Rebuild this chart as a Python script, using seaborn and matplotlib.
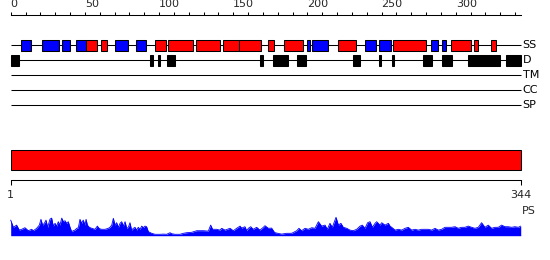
import numpy as np
import matplotlib
matplotlib.use("Agg")
import matplotlib.pyplot as plt
from matplotlib.patches import Rectangle
import seaborn as sns

# ---------------- data ----------------
seq_len = 344

# secondary structure elements (H = helix red, E = strand blue)
ss_start = [7.0, 21.4, 34.6, 44.3, 50.6, 61.2, 70.4, 84.6, 97.4, 106.3, 125.0, 143.4,
            153.9, 173.3, 184.5, 199.4, 203.2, 220.3, 238.5, 248.2, 257.9, 283.4,
            290.5, 296.6, 312.6, 323.5]
ss_end = [13.6, 32.4, 40.3, 50.6, 58.5, 65.0, 79.2, 91.1, 104.4, 122.6, 141.0, 153.9,
          168.4, 177.2, 197.1, 201.5, 214.0, 232.5, 246.3, 256.6, 280.2, 287.9,
          293.3, 310.5, 315.2, 327.2]
ss_type = ["E", "E", "E", "E", "H", "H", "E", "E", "H", "H", "H", "H", "H", "H", "H",
           "E", "E", "H", "E", "E", "H", "E", "E", "H", "H", "H"]

# disordered regions
d_start = [0, 94, 99.3, 105.2, 168.1, 176.9, 193.1, 230.8, 248.6, 257.1, 278.1, 290.8,
           308.4, 334.0]
d_end = [5.6, 96.0, 100.7, 110.7, 170.0, 186.8, 198.9, 235.4, 249.7, 258.3, 283.9,
         297.4, 329.8, 344]

track_labels = ["SS", "D", "TM", "CC", "SP"]

# domain bar
domain_start = [0]
domain_end = [344]

# profile (PS)
ps_pos = [0, 1.8, 4.0, 5.8, 7.4, 9.6, 11.9, 14.1, 15.3, 17.5, 19.3, 20.4, 21.5, 22.7,
          23.8, 24.9, 26.5, 27.6, 28.7, 29.9, 31.0, 32.1, 33.2, 34.4, 35.5, 36.6,
          37.7, 38.8, 40.0, 41.1, 42.2, 43.3, 44.5, 45.6, 46.7, 47.8, 48.9, 50.1,
          50.8, 51.7, 53.0, 54.6, 56.8, 58.4, 59.8, 61.3, 63.6, 65.8, 66.9, 68.1,
          69.2, 70.3, 71.4, 72.6, 73.7, 74.8, 75.9, 77.1, 78.2, 79.3, 80.4, 81.5,
          82.7, 83.8, 84.9, 86.0, 87.2, 88.3, 89.4, 90.5, 91.6, 92.8, 95.0, 97.3,
          100.6, 102.9, 105.1, 107.4, 108.5, 110.8, 114.1, 116.4, 118.6, 122.0,
          125.4, 129.9, 133.2, 134.8, 136.1, 138.8, 141.1, 142.2, 144.5, 147.8,
          150.1, 152.3, 154.6, 155.7, 157.9, 159.1, 160.2, 161.8, 163.5, 165.8,
          168.0, 170.3, 171.4, 173.7, 175.9, 177.5, 178.2, 182.6, 186.0, 189.4,
          192.8, 194.3, 196.1, 198.4, 200.6, 202.9, 205.1, 207.4, 209.6, 211.9,
          213.4, 215.2, 216.8, 219.3, 220.9, 222.6, 224.2, 226.5, 228.7, 230.9,
          233.2, 235.5, 237.0, 238.8, 240.6, 242.2, 243.8, 245.6, 246.7, 248.9,
          250.1, 252.3, 254.6, 255.7, 256.8, 259.1, 261.3, 263.6, 265.8, 268.0,
          270.3, 272.5, 274.8, 277.0, 279.3, 281.5, 283.8, 286.0, 288.2, 290.5,
          292.7, 295.0, 297.2, 299.5, 301.7, 303.9, 306.2, 308.4, 310.7, 312.9,
          315.2, 317.4, 319.7, 321.9, 324.2, 326.4, 328.7, 330.9, 333.2, 335.4,
          337.7, 339.9, 342.2, 343.8]
ps_val = [0.78, 0.42, 0.53, 0.28, 0.32, 0.40, 0.25, 0.32, 0.25, 0.37, 0.53, 0.82, 0.53,
          0.62, 0.78, 0.42, 0.83, 0.88, 0.48, 0.62, 0.48, 0.70, 0.53, 0.88, 0.70,
          0.75, 0.62, 0.70, 0.42, 0.20, 0.25, 0.28, 0.37, 0.40, 0.82, 0.62, 0.78,
          0.53, 0.82, 0.53, 0.42, 0.37, 0.32, 0.48, 0.35, 0.32, 0.32, 0.37, 0.42,
          0.53, 0.87, 0.53, 0.65, 0.42, 0.62, 0.70, 0.48, 0.70, 0.37, 0.42, 0.65,
          0.28, 0.37, 0.42, 0.28, 0.42, 0.32, 0.48, 0.40, 0.48, 0.45, 0.20, 0.12,
          0.07, 0.07, 0.08, 0.07, 0.15, 0.10, 0.07, 0.07, 0.12, 0.15, 0.17, 0.25,
          0.25, 0.23, 0.53, 0.32, 0.32, 0.28, 0.37, 0.28, 0.37, 0.25, 0.37, 0.48,
          0.38, 0.45, 0.25, 0.37, 0.45, 0.32, 0.42, 0.28, 0.42, 0.50, 0.37, 0.38,
          0.20, 0.15, 0.08, 0.12, 0.12, 0.25, 0.37, 0.25, 0.37, 0.32, 0.40,
          0.37, 0.70, 0.48, 0.53, 0.32, 0.62, 0.42, 0.92, 0.53, 0.62, 0.42, 0.37,
          0.28, 0.25, 0.32, 0.48, 0.53, 0.37, 0.65, 0.70, 0.42, 0.62, 0.70, 0.53,
          0.65, 0.53, 0.62, 0.48, 0.42, 0.28, 0.32, 0.28, 0.37, 0.42, 0.28, 0.32,
          0.28, 0.32, 0.32, 0.32, 0.28, 0.37, 0.28, 0.32, 0.42, 0.42, 0.42, 0.45,
          0.37, 0.42, 0.42, 0.48, 0.42, 0.37, 0.42, 0.65, 0.42, 0.53, 0.37, 0.42,
          0.42, 0.53, 0.45, 0.45, 0.42, 0.45, 0.42, 0.48]

top_major = [0, 50, 100, 150, 200, 250, 300]
top_minor = list(range(0, 341, 10))
bottom_ticks = [0, 344]
bottom_labels = ["1", "344"]

# ---------------- layout ----------------
W, H = 550, 260
sns.set_theme(style="white")
plt.rcParams["font.family"] = ["DejaVu Sans"]
plt.rcParams["axes.facecolor"] = "white"

fig = plt.figure(figsize=(W / 100, H / 100), dpi=100)
px_per_res = 1.4835
x0 = 10.7
xlim = (-x0 / px_per_res, (W - x0) / px_per_res)
lw = 0.75

def fy(y):
    return 1 - y / H

# canvas axes: x in residues, y in pixel rows
ax = fig.add_axes([0, 0, 1, 1])
ax.set_xlim(*xlim)
ax.set_ylim(H, 0)
ax.axis("off")

track_y = [45, 60, 75.3, 90.3, 105.3]
for yy, lab in zip(track_y, track_labels):
    ax.plot([0, seq_len], [yy, yy], color="black", lw=lw, solid_capstyle="butt", zorder=1)
    ax.text(seq_len + 1.0, yy, lab, ha="left", va="center", fontsize=8, color="black")

box_h = 11
colors = {"H": "#ff0000", "E": "#0000ff"}
for s, e, t in zip(ss_start, ss_end, ss_type):
    ax.add_patch(Rectangle((s, track_y[0] - box_h / 2), e - s, box_h,
                           facecolor=colors[t], edgecolor="black", lw=lw, zorder=2))
for s, e in zip(d_start, d_end):
    ax.add_patch(Rectangle((s, track_y[1] - box_h / 2), e - s, box_h,
                           facecolor="black", edgecolor="black", lw=lw, zorder=2))

# domain bar
for s, e in zip(domain_start, domain_end):
    ax.add_patch(Rectangle((s, 150), e - s, 20, facecolor="#ff0000",
                           edgecolor="black", lw=lw, zorder=2))

ax.text(seq_len + 0.7, 210.5, "PS", ha="left", va="center", fontsize=8)

# top ruler axis
axt = fig.add_axes([0, fy(15), 1, 0.0005])
axt.set_xlim(*xlim)
axt.set_facecolor("none")
for sp in ["left", "right", "bottom"]:
    axt.spines[sp].set_visible(False)
axt.spines["top"].set_bounds(0, seq_len)
axt.spines["top"].set_linewidth(lw)
axt.spines["top"].set_color("black")
axt.xaxis.set_ticks_position("top")
axt.set_xticks(top_major)
axt.set_xticklabels([str(v) for v in top_major])
axt.set_xticks(top_minor, minor=True)
axt.tick_params(axis="x", which="both", direction="out", length=2.4, width=lw,
                color="black", top=True, bottom=False, pad=1.5, labelsize=8)
axt.set_yticks([])
for lbl in axt.get_xticklabels():
    lbl.set_ha("left")

# bottom ruler axis
axb = fig.add_axes([0, fy(180.3), 1, 0.0005])
axb.set_xlim(*xlim)
axb.set_facecolor("none")
for sp in ["left", "right", "top"]:
    axb.spines[sp].set_visible(False)
axb.spines["bottom"].set_bounds(0, seq_len)
axb.spines["bottom"].set_linewidth(lw)
axb.spines["bottom"].set_color("black")
axb.set_xticks(bottom_ticks)
axb.set_xticklabels(bottom_labels)
axb.tick_params(axis="x", which="both", direction="out", length=3.6, width=lw,
                color="black", bottom=True, pad=3.5, labelsize=8)
axb.set_yticks([])

# profile axis
axp = fig.add_axes([0, fy(235.7), 1, 20 / H])
axp.set_xlim(*xlim)
axp.set_ylim(0, 1)
axp.axis("off")
sns.lineplot(x=ps_pos, y=ps_val, ax=axp, color="#0000ff", lw=0.6, legend=False)
axp.fill_between(ps_pos, 0, ps_val, color="#0000ff", lw=0)
axp.plot([0, seq_len + 4.5], [0, 0], color="#0000ff", lw=lw)

fig.savefig("out.png", dpi=100)
